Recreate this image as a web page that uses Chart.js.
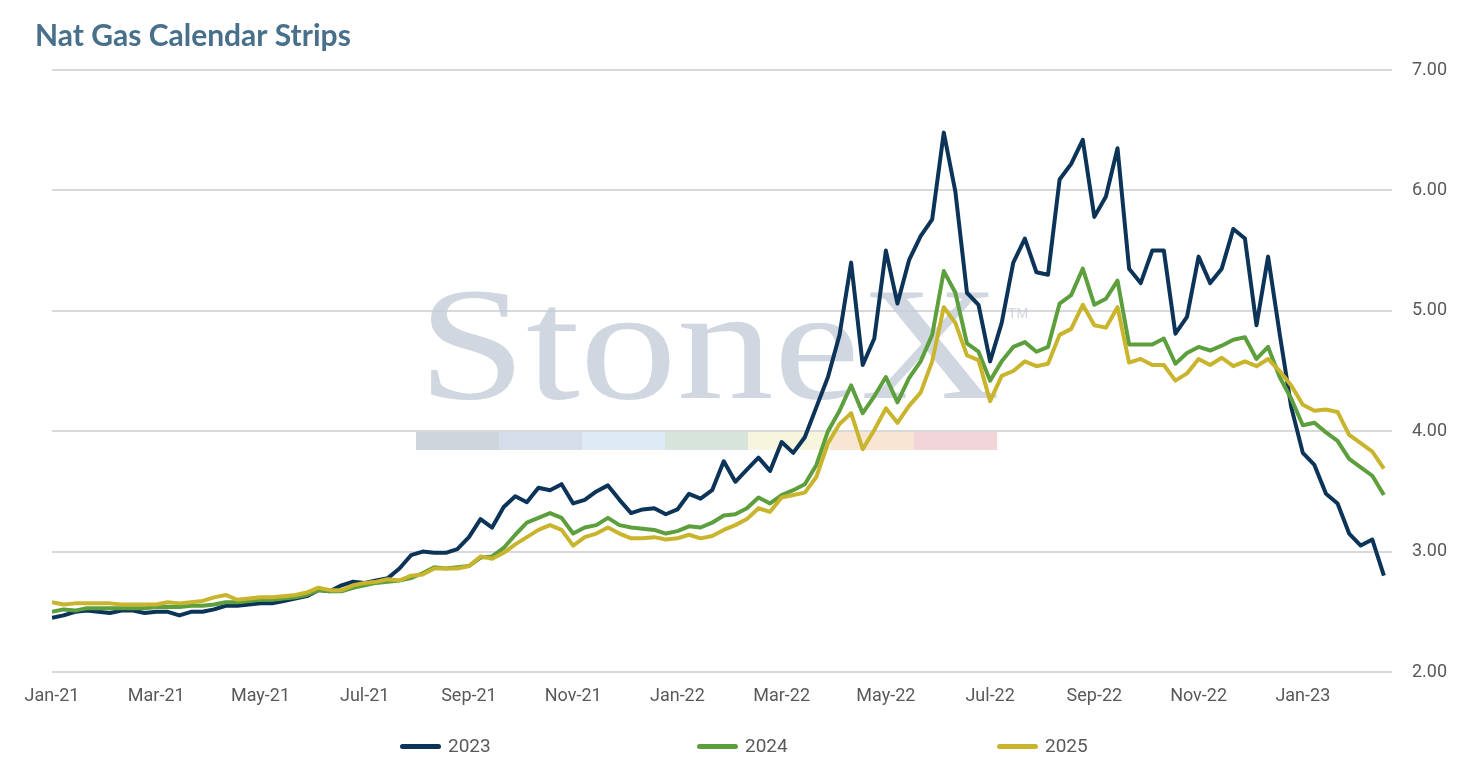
<!DOCTYPE html>
<html>
<head>
<meta charset="utf-8">
<script src="https://cdn.jsdelivr.net/npm/chart.js@4.4.1/dist/chart.umd.min.js"></script>
<style>
  html, body { margin: 0; padding: 0; background: #fff; overflow: hidden; }
  #wrap { position: relative; width: 1477px; height: 769px; }
  #legend { position: absolute; left: 0; top: 736px; width: 1477px; height: 22px; font-family: Roboto, sans-serif; font-size: 19px; color: #595959; }
  .item { position: absolute; display: flex; align-items: center; gap: 7px; line-height: 20px; }
  .swatch { width: 41px; height: 5px; border-radius: 3px; }
</style>
</head>
<body>
<div id="wrap">
  <canvas id="chart" width="1477" height="769"></canvas>
  <div id="legend"></div>
</div>
<script>
// weekly closes (Jan-21 .. Feb-23)
const tickLabels = ["Jan-21", "Mar-21", "May-21", "Jul-21", "Sep-21", "Nov-21", "Jan-22",
                    "Mar-22", "May-22", "Jul-22", "Sep-22", "Nov-22", "Jan-23"];
const weeksPerTick = 9;
const seriesNames = ["2023", "2024", "2025"];
const seriesColors = ["#0c3358", "#5d9f3c", "#c9b42d"];

const strip2023 = [
  2.45, 2.47, 2.50, 2.51, 2.50, 2.49, 2.51, 2.51, 2.49, 2.50,
  2.50, 2.47, 2.50, 2.50, 2.52, 2.55, 2.55, 2.56, 2.57, 2.57,
  2.59, 2.61, 2.63, 2.68, 2.67, 2.72, 2.75, 2.74, 2.76, 2.78,
  2.86, 2.97, 3.00, 2.99, 2.99, 3.02, 3.12, 3.27, 3.20, 3.37,
  3.46, 3.41, 3.53, 3.51, 3.56, 3.40, 3.43, 3.50, 3.55, 3.43,
  3.32, 3.35, 3.36, 3.31, 3.35, 3.48, 3.44, 3.51, 3.75, 3.58,
  3.68, 3.78, 3.67, 3.91, 3.82, 3.95, 4.20, 4.45, 4.80, 5.40,
  4.55, 4.77, 5.50, 5.06, 5.42, 5.62, 5.76, 6.48, 5.99, 5.15,
  5.05, 4.58, 4.90, 5.40, 5.60, 5.32, 5.30, 6.09, 6.22, 6.42,
  5.78, 5.95, 6.35, 5.35, 5.23, 5.50, 5.50, 4.81, 4.95, 5.45,
  5.23, 5.35, 5.68, 5.60, 4.88, 5.45, 4.81, 4.20, 3.82, 3.72,
  3.48, 3.40, 3.15, 3.05, 3.10, 2.80
];
const strip2024 = [
  2.50, 2.52, 2.51, 2.53, 2.53, 2.53, 2.53, 2.53, 2.53, 2.54,
  2.54, 2.54, 2.55, 2.55, 2.56, 2.58, 2.58, 2.59, 2.60, 2.60,
  2.61, 2.62, 2.64, 2.68, 2.67, 2.67, 2.70, 2.72, 2.74, 2.75,
  2.76, 2.78, 2.82, 2.87, 2.86, 2.87, 2.88, 2.95, 2.96, 3.03,
  3.14, 3.24, 3.28, 3.32, 3.28, 3.15, 3.20, 3.22, 3.28, 3.22,
  3.20, 3.19, 3.18, 3.15, 3.17, 3.21, 3.20, 3.24, 3.30, 3.31,
  3.36, 3.45, 3.40, 3.47, 3.51, 3.56, 3.72, 4.00, 4.17, 4.38,
  4.15, 4.29, 4.45, 4.24, 4.44, 4.58, 4.80, 5.33, 5.15, 4.73,
  4.66, 4.42, 4.58, 4.70, 4.74, 4.66, 4.70, 5.06, 5.13, 5.35,
  5.05, 5.10, 5.25, 4.72, 4.72, 4.72, 4.77, 4.56, 4.65, 4.70,
  4.67, 4.71, 4.76, 4.78, 4.60, 4.70, 4.45, 4.27, 4.05, 4.07,
  3.99, 3.92, 3.77, 3.70, 3.63, 3.47
];
const strip2025 = [
  2.58, 2.56, 2.57, 2.57, 2.57, 2.57, 2.56, 2.56, 2.56, 2.56,
  2.58, 2.57, 2.58, 2.59, 2.62, 2.64, 2.60, 2.61, 2.62, 2.62,
  2.63, 2.64, 2.66, 2.70, 2.68, 2.68, 2.72, 2.74, 2.75, 2.77,
  2.76, 2.80, 2.81, 2.86, 2.86, 2.86, 2.88, 2.96, 2.94, 2.99,
  3.06, 3.12, 3.18, 3.22, 3.18, 3.05, 3.12, 3.15, 3.20, 3.15,
  3.11, 3.11, 3.12, 3.10, 3.11, 3.14, 3.11, 3.13, 3.18, 3.22,
  3.27, 3.36, 3.33, 3.45, 3.47, 3.49, 3.62, 3.90, 4.06, 4.15,
  3.85, 4.01, 4.19, 4.07, 4.21, 4.32, 4.58, 5.03, 4.90, 4.63,
  4.59, 4.25, 4.46, 4.50, 4.58, 4.54, 4.56, 4.80, 4.85, 5.05,
  4.88, 4.86, 5.03, 4.57, 4.60, 4.55, 4.55, 4.42, 4.48, 4.60,
  4.55, 4.61, 4.54, 4.58, 4.54, 4.60, 4.50, 4.38, 4.22, 4.17,
  4.18, 4.16, 3.97, 3.90, 3.83, 3.69
];

const yTicks = [2, 3, 4, 5, 6, 7];

function toPoints(values) {
    return values.map((v, i) => ({ x: i, y: v }));
}

// faint StoneX mark behind the lines
const watermark = {
    id: "watermark",
    beforeDatasetsDraw(chart) {
        const ctx = chart.ctx;
        ctx.save();
        ctx.font = '160px "Liberation Serif", "DejaVu Serif", serif';
        const w = ctx.measureText("StoneX").width;
        ctx.translate(418, 398);
        ctx.scale(582 / w, 1);
        ctx.fillStyle = "rgba(196,205,216,0.8)";
        ctx.textBaseline = "alphabetic";
        ctx.fillText("StoneX", 0, 0);
        ctx.restore();

        ctx.save();
        ctx.font = '14px "Liberation Sans", sans-serif';
        ctx.fillStyle = "rgba(196,205,216,0.8)";
        ctx.fillText("TM", 1008, 318);
        const bars = ["#cfd5dd", "#d4dde8", "#deebf4", "#d6e4dc", "#f8f5de", "#f8e6d2", "#f2d5d8"];
        bars.forEach((c, i) => {
            ctx.fillStyle = c;
            ctx.fillRect(416 + i * 83, 432, 83, 18);
        });
        ctx.restore();
    }
};

const titlePlugin = {
    id: "titleText",
    afterDraw(chart) {
        const ctx = chart.ctx;
        ctx.save();
        ctx.font = 'bold 30px Lato, "Open Sans", sans-serif';
        ctx.fillStyle = "#48708b";
        ctx.textBaseline = "alphabetic";
        ctx.fillText("Nat Gas Calendar Strips", 35, 46);
        ctx.restore();
    }
};

const allSeries = [strip2023, strip2024, strip2025];
const datasets = allSeries.map((vals, k) => ({
    label: seriesNames[k],
    data: toPoints(vals),
    borderColor: seriesColors[k],
    backgroundColor: seriesColors[k],
    borderWidth: 4,
    pointRadius: 0,
    tension: 0,
    borderJoinStyle: "round",
    order: 3 - k
}));

new Chart(document.getElementById("chart"), {
    type: "line",
    data: { datasets: datasets },
    options: {
        responsive: false,
        animation: false,
        layout: { padding: { top: 70, left: 52, right: 0, bottom: 52 } },
        plugins: {
            legend: { display: false },
            tooltip: { enabled: false }
        },
        scales: {
            x: {
                type: "linear",
                min: 0,
                max: 115.7,
                grid: { display: false, drawTicks: false },
                border: { display: false },
                afterFit: s => { s.height = 45; },
                ticks: {
                    stepSize: weeksPerTick,
                    autoSkip: false,
                    maxRotation: 0,
                    padding: 14,
                    color: "#595959",
                    font: { family: "Roboto", size: 18 },
                    callback: v => {
                        const k = v / weeksPerTick;
                        return Number.isInteger(k) && tickLabels[k] ? tickLabels[k] : null;
                    }
                }
            },
            y: {
                position: "right",
                min: yTicks[0],
                max: yTicks[yTicks.length - 1],
                afterFit: s => { s.width = 85; },
                grid: { color: "#d9d9d9", lineWidth: 2, drawTicks: false },
                border: { display: false },
                ticks: {
                    stepSize: 1,
                    padding: 20,
                    color: "#595959",
                    font: { family: "Roboto", size: 18 },
                    callback: v => v.toFixed(2)
                }
            }
        }
    },
    plugins: [watermark, titlePlugin]
});

// legend as html, spaced like the original
const legendPos = [400, 697, 997];
const legend = document.getElementById("legend");
seriesNames.forEach((name, k) => {
    const item = document.createElement("div");
    item.className = "item";
    item.style.left = legendPos[k] + "px";
    const sw = document.createElement("span");
    sw.className = "swatch";
    sw.style.background = seriesColors[k];
    const tx = document.createElement("span");
    tx.textContent = name;
    item.appendChild(sw);
    item.appendChild(tx);
    legend.appendChild(item);
});
</script>
</body>
</html>
